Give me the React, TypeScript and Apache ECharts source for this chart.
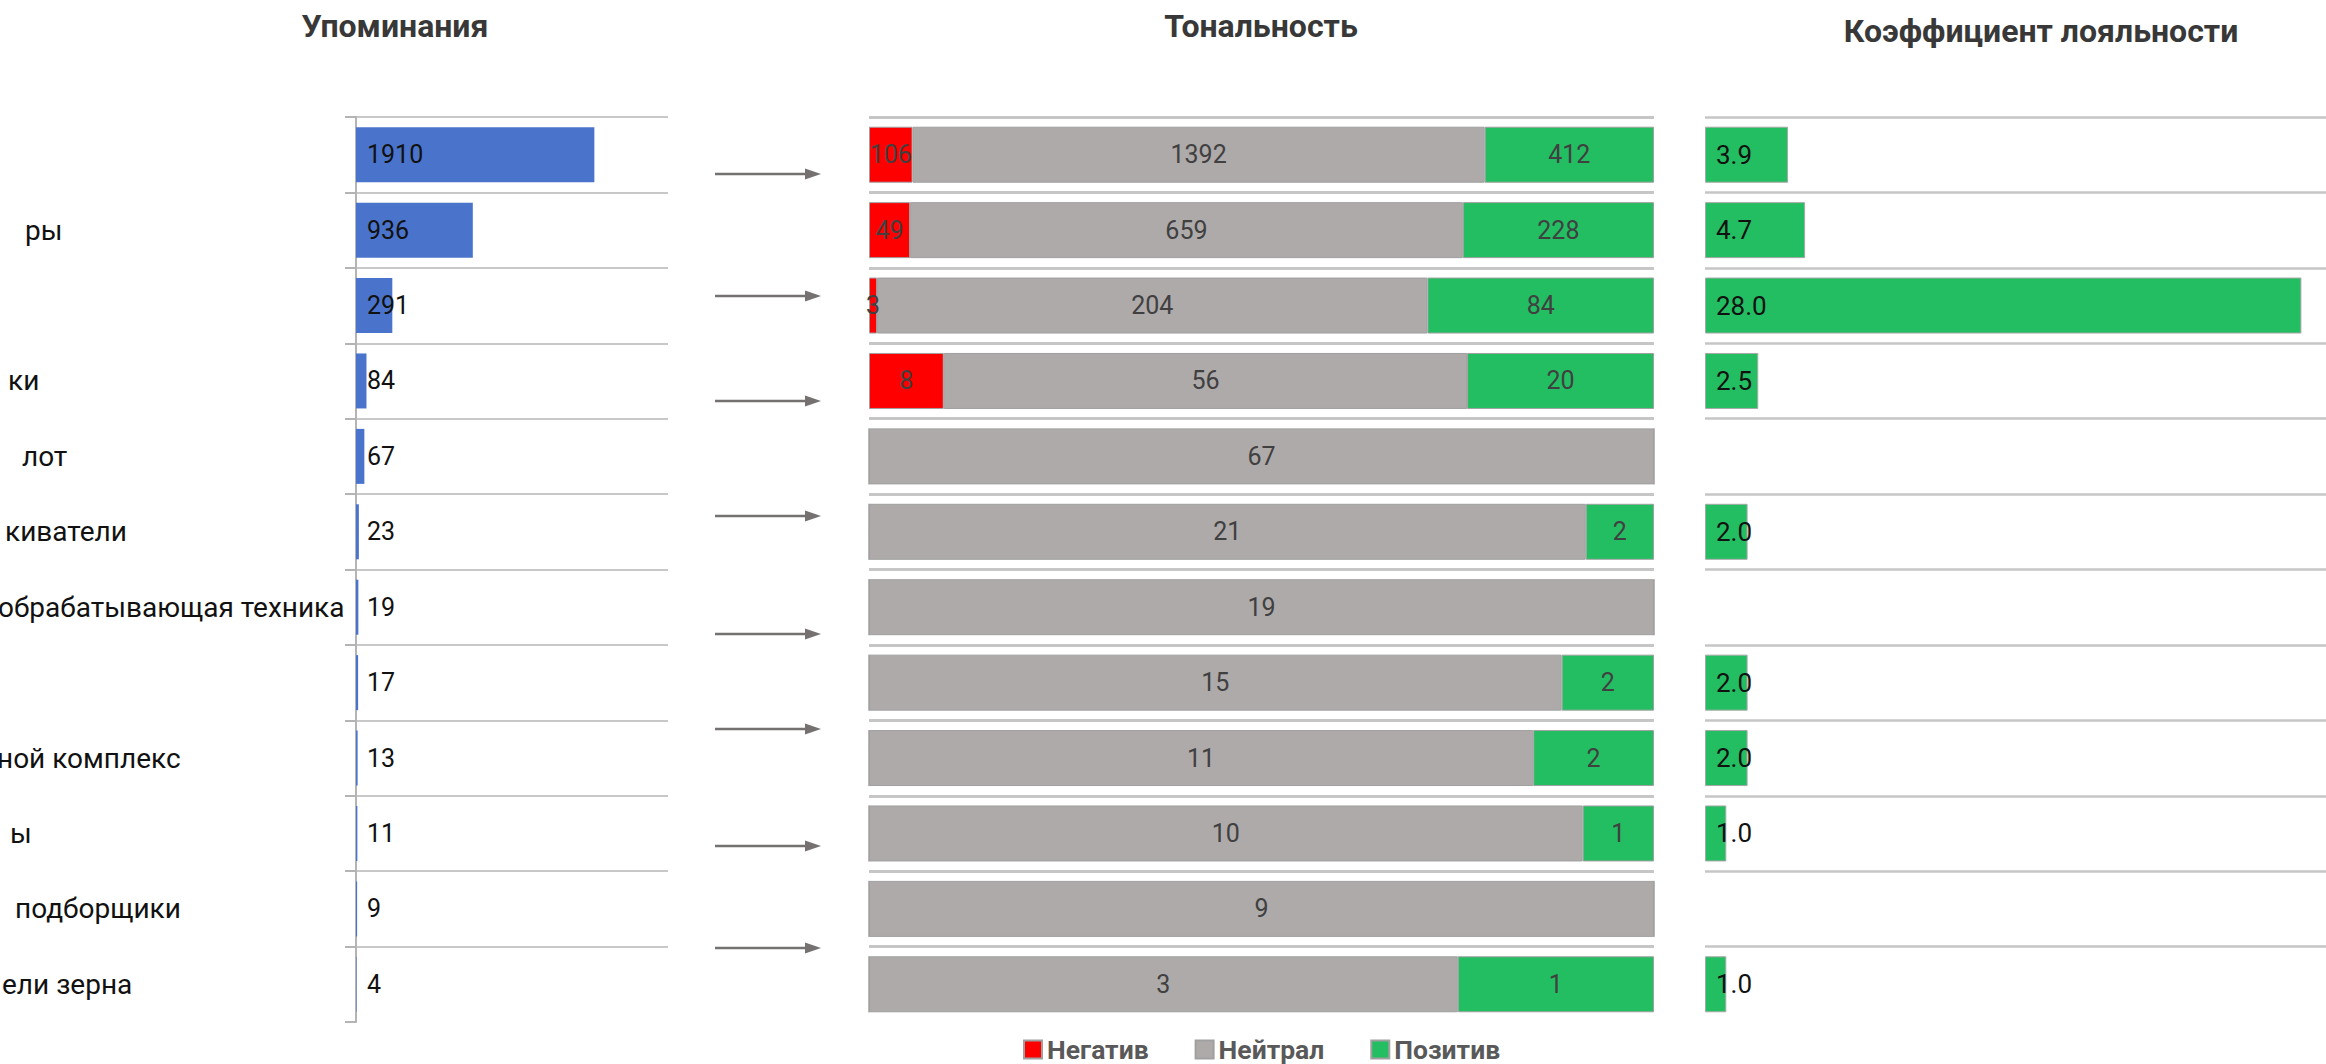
import React, { useEffect, useRef } from "react";
import * as echarts from "echarts";

// ---- data ----
const categories = ["", "ры", "", "ки", "лот", "киватели", "обрабатывающая техника", "", "ной комплекс", "ы", "подборщики", "ели зерна"];
const mentions = [1910, 936, 291, 84, 67, 23, 19, 17, 13, 11, 9, 4];
const negative = [106, 49, 3, 8, 0, 0, 0, 0, 0, 0, 0, 0];
const neutral = [1392, 659, 204, 56, 67, 21, 19, 15, 11, 10, 9, 3];
const positive = [412, 228, 84, 20, 0, 2, 0, 2, 2, 1, 0, 1];
const loyalty: (number | null)[] = [3.9, 4.7, 28.0, 2.5, null, 2.0, null, 2.0, 2.0, 1.0, null, 1.0];
const titles = ["Упоминания", "Тональность", "Коэффициент лояльности"];
const legendNames = ["Негатив", "Нейтрал", "Позитив"];

// ---- layout / style (not data) ----
const labelIndent = [0, 33, 0, 16, 30, 13, 6, 0, 5, 18, 23, 10];
const arrowYs = [174, 296, 401, 516, 634, 729, 846, 948];
const FONT = "Roboto";
const TOP = 117;
const HEIGHT = 905;

const totals = negative.map((n, i) => n + neutral[i] + positive[i]);
const pct = (arr: number[]) => arr.map((v, i) => (v / totals[i]) * 100);

export default function App() {
  const ref = useRef<HTMLDivElement>(null);
  useEffect(() => {
    if (!ref.current) return;
    const chart = echarts.init(ref.current, undefined, { renderer: "svg" });

    const rich: Record<string, any> = {};
    labelIndent.forEach((p, i) => {
      rich["r" + i] = { padding: [0, 0, 0, p], fontSize: 28, color: "#111", fontFamily: FONT };
    });

    const catAxisBase = {
      type: "category" as const,
      data: categories,
      inverse: true,
      axisLabel: { show: false, interval: 0 },
      axisTick: { show: false, interval: 0 },
      axisLine: { show: false },
    };

    const graphics: any[] = [];
    arrowYs.forEach((y) => {
      graphics.push({
        type: "line",
        shape: { x1: 715, y1: y, x2: 810, y2: y },
        style: { stroke: "#767171", lineWidth: 2.5 },
      });
      graphics.push({
        type: "polygon",
        shape: { points: [[805, y - 5.5], [821, y], [805, y + 5.5]] },
        style: { fill: "#767171" },
      });
    });

    const middleLabel = (arr: number[]) => ({
      show: true,
      position: "inside",
      fontSize: 25,
      fontFamily: FONT,
      color: "#404040",
      formatter: (p: any) => (arr[p.dataIndex] ? String(arr[p.dataIndex]) : ""),
    });

    const gridBase = { top: TOP, height: HEIGHT, outerBoundsMode: "none", containLabel: false };

    chart.setOption({
      animation: false,
      textStyle: { fontFamily: FONT },
      title: [
        { text: titles[0], left: 390, top: 5, textAlign: "center" },
        { text: titles[1], left: 1256, top: 5, textAlign: "center" },
        { text: titles[2], left: 2036, top: 10, textAlign: "center" },
      ].map((t) => ({
        ...t,
        textStyle: { fontSize: 32, fontWeight: "bold", color: "#383838", fontFamily: FONT },
      })),
      legend: {
        data: legendNames,
        left: 1018,
        top: 1031,
        itemWidth: 18,
        itemHeight: 18,
        itemGap: 46,
        icon: "rect",
        textStyle: { fontSize: 26.5, fontWeight: "bold", color: "#595959", fontFamily: FONT },
      },
      grid: [
        { ...gridBase, left: 356, width: 312 },
        { ...gridBase, left: 869, width: 785 },
        { ...gridBase, left: 1705, width: 639 },
      ],
      xAxis: [
        { type: "value", gridIndex: 0, min: 0, max: 2500, show: false },
        { type: "value", gridIndex: 1, min: 0, max: 100, show: false },
        { type: "value", gridIndex: 2, min: 0, max: 30, show: false },
      ],
      yAxis: [
        {
          ...catAxisBase,
          gridIndex: 0,
          axisLine: { show: true, lineStyle: { color: "#b4b4b4", width: 2 } },
          axisTick: { show: true, interval: 0, length: 11, lineStyle: { color: "#b4b4b4", width: 2 } },
          splitLine: { show: true, interval: 0, showMaxLine: false, lineStyle: { color: "#c8c8c8", width: 2 } },
          axisLabel: {
            show: true,
            interval: 0,
            align: "left",
            margin: 364,
            fontSize: 28,
            color: "#111",
            fontFamily: FONT,
            formatter: (v: string, i: number) => (v ? `{r${i}|${v}}` : ""),
            rich,
          },
        },
        {
          ...catAxisBase,
          gridIndex: 1,
          splitLine: { show: true, interval: 0, showMaxLine: false, lineStyle: { color: "#c6c6c6", width: 3 } },
        },
        {
          ...catAxisBase,
          gridIndex: 2,
          splitLine: { show: true, interval: 0, showMaxLine: false, lineStyle: { color: "#c6c6c6", width: 2.5 } },
        },
      ],
      series: [
        {
          type: "bar",
          xAxisIndex: 0,
          yAxisIndex: 0,
          data: mentions,
          barWidth: 55,
          itemStyle: { color: "#4a74cc" },
          label: {
            show: true,
            position: "insideLeft",
            distance: 11,
            fontSize: 25,
            fontFamily: FONT,
            color: "#111",
          },
        },
        {
          name: legendNames[0],
          type: "bar",
          stack: "tone",
          xAxisIndex: 1,
          yAxisIndex: 1,
          data: pct(negative),
          barWidth: 56,
          itemStyle: { color: "#ff0000", borderColor: "#a0a0a0", borderWidth: 1 },
          label: middleLabel(negative),
        },
        {
          name: legendNames[1],
          type: "bar",
          stack: "tone",
          xAxisIndex: 1,
          yAxisIndex: 1,
          data: pct(neutral),
          barWidth: 56,
          itemStyle: { color: "#aeaaaa", borderColor: "#a0a0a0", borderWidth: 1 },
          label: middleLabel(neutral),
        },
        {
          name: legendNames[2],
          type: "bar",
          stack: "tone",
          xAxisIndex: 1,
          yAxisIndex: 1,
          data: pct(positive),
          barWidth: 56,
          itemStyle: { color: "#23be62", borderColor: "#a0a0a0", borderWidth: 1 },
          label: middleLabel(positive),
        },
        {
          type: "bar",
          xAxisIndex: 2,
          yAxisIndex: 2,
          data: loyalty,
          barWidth: 56,
          itemStyle: { color: "#23be62", borderColor: "#a8a8a8", borderWidth: 1 },
          label: {
            show: true,
            position: "insideLeft",
            distance: 11,
            fontSize: 26,
            fontFamily: FONT,
            color: "#111",
            formatter: (p: any) => (p.value == null ? "" : Number(p.value).toFixed(1)),
          },
        },
      ],
      graphic: graphics,
    });

    return () => chart.dispose();
  }, []);

  return (
    <div
      ref={ref}
      style={{ position: "absolute", left: 0, top: 0, width: 2326, height: 1064, background: "#fff" }}
    />
  );
}
